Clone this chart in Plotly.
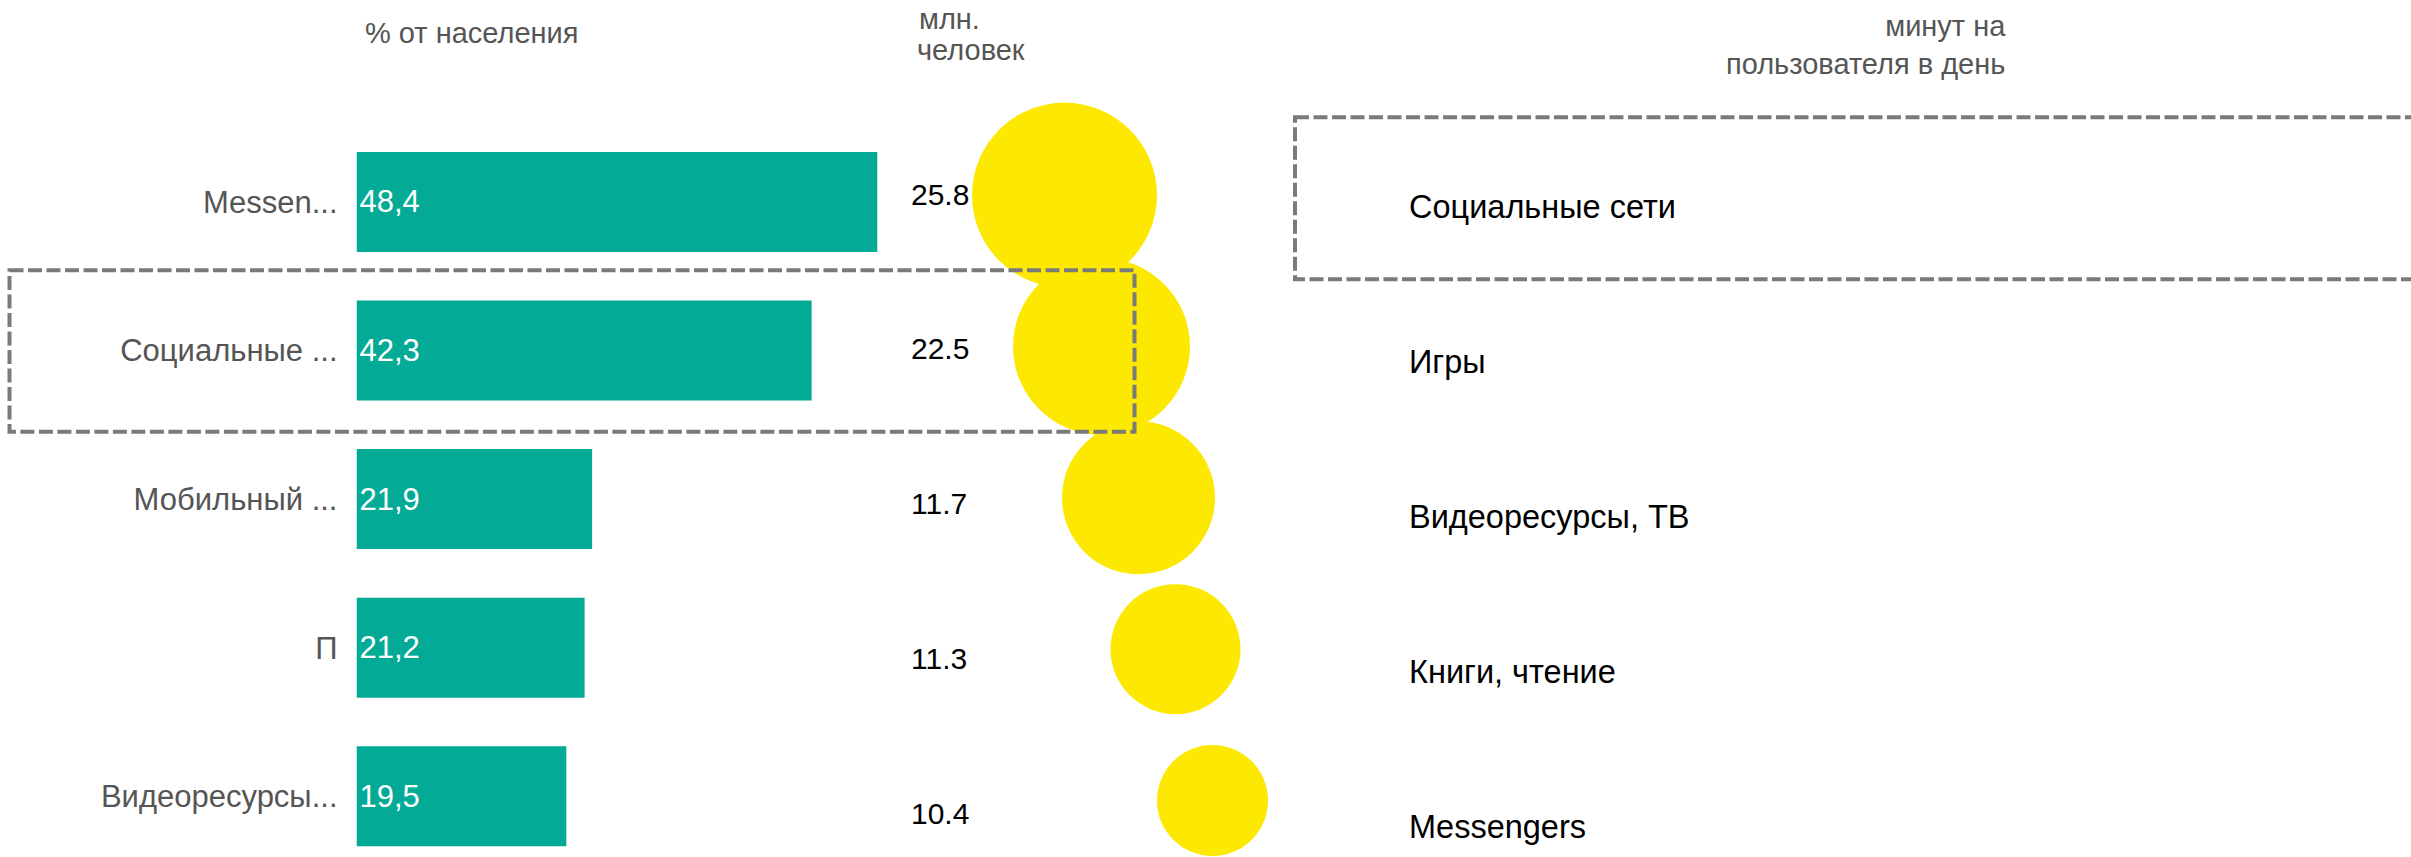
import plotly.graph_objects as go

# ---------------- data ----------------
categories = ["Messen...", "Социальные ...", "Мобильный ...", "П", "Видеоресурсы..."]
share_pct = [48.4, 42.3, 21.9, 21.2, 19.5]          # % от населения
users_mln = [25.8, 22.5, 11.7, 11.3, 10.4]          # млн. человек
activities = ["Социальные сети", "Игры", "Видеоресурсы, ТВ", "Книги, чтение", "Messengers"]
minutes_per_user = [100, 91.5, 68.4, 49.4, 36.0]
activity_rank = [0, 1, 2, 3, 4]

header_share = "% от населения"
header_users_1 = "млн."
header_users_2 = "человек"
header_minutes = "минут на<br>пользователя в день"

# ---------------- styling ----------------
W, H = 2411, 857
FONT = "Liberation Sans, Arial, sans-serif"
TEAL = "#03AB97"
YELLOW = "#FCE800"
GREY_TXT = "#555555"
DASH_COL = "#7a7a7a"

def px(x):
    return x / W

def py(y):
    return 1 - y / H

fig = go.Figure()

# bars
fig.add_trace(go.Bar(
    x=share_pct, y=categories, orientation="h",
    marker=dict(color=TEAL, line=dict(width=0)),
    text=[f"{v:.1f}".replace(".", ",") for v in share_pct],
    textposition="inside", insidetextanchor="start",
    insidetextfont=dict(family=FONT, size=31, color="white"),
    constraintext="none", cliponaxis=False,
    xaxis="x", yaxis="y", hoverinfo="skip",
))

# bubbles
max_min = max(minutes_per_user)
fig.add_trace(go.Scatter(
    x=activity_rank, y=activities, mode="markers",
    marker=dict(size=minutes_per_user, sizemode="area",
                sizeref=2 * max_min / (185 ** 2), color=YELLOW,
                line=dict(width=0), opacity=1),
    cliponaxis=False, xaxis="x2", yaxis="y2", hoverinfo="skip",
))

# users numbers
fig.add_trace(go.Scatter(
    x=[0] * len(users_mln), y=categories, mode="text",
    text=[f"{v:.1f}" for v in users_mln], textposition="middle right",
    textfont=dict(family=FONT, size=30, color="black"),
    cliponaxis=False, xaxis="x3", yaxis="y3", hoverinfo="skip",
))

# activity names
fig.add_trace(go.Scatter(
    x=[0] * len(activities), y=activities, mode="text",
    text=activities, textposition="middle right",
    textfont=dict(family=FONT, size=32.5, color="black"),
    cliponaxis=False, xaxis="x4", yaxis="y4", hoverinfo="skip",
))

hidden = dict(visible=False, showgrid=False, zeroline=False, fixedrange=True)

bar_step = 148.6
bar_c0 = 201.9
bar_bottom_idx = (H - bar_c0) / bar_step

bub_step = 151.35
bub_c0 = 195.1
num_step = 154.75
num_c0 = 197.2
act_step = 154.84
act_c0 = 210.1
top_px = 90

fig.update_layout(
    width=W, height=H,
    margin=dict(l=0, r=0, t=0, b=0),
    paper_bgcolor="white", plot_bgcolor="rgba(0,0,0,0)",
    showlegend=False,
    bargap=1 - 100 / bar_step,
    font=dict(family=FONT),
    xaxis=dict(domain=[px(356.5), px(900)], range=[0, (900 - 356.5) / 10.76], **hidden),
    yaxis=dict(domain=[0, py(bar_c0 - bar_step / 2)], range=[bar_bottom_idx, -0.5],
               type="category", categoryorder="array", categoryarray=categories,
               showgrid=False, zeroline=False, showline=False, ticks="",
               ticklabelstandoff=18,
               tickfont=dict(family=FONT, size=31, color=GREY_TXT)),
    xaxis2=dict(domain=[px(950), px(1300)], range=[(950 - 1064.5) / 37, (1300 - 1064.5) / 37],
                anchor="y2", **hidden),
    yaxis2=dict(domain=[0, py(top_px)], anchor="x2",
                range=[(H - bub_c0) / bub_step, (top_px - bub_c0) / bub_step],
                type="category", categoryorder="array", categoryarray=activities, **hidden),
    xaxis3=dict(domain=[px(911), 1], range=[0, 1], anchor="y3", **hidden),
    yaxis3=dict(domain=[0, py(top_px)], anchor="x3",
                range=[(H - num_c0) / num_step, (top_px - num_c0) / num_step],
                type="category", categoryorder="array", categoryarray=categories, **hidden),
    xaxis4=dict(domain=[px(1409), 1], range=[0, 1], anchor="y4", **hidden),
    yaxis4=dict(domain=[0, py(top_px)], anchor="x4",
                range=[(H - act_c0) / act_step, (top_px - act_c0) / act_step],
                type="category", categoryorder="array", categoryarray=activities, **hidden),
)

ann_font = dict(family=FONT, size=29, color=GREY_TXT)
fig.add_annotation(text=header_share, x=px(363), y=py(33), xref="paper", yref="paper",
                   xanchor="left", yanchor="middle", showarrow=False, font=ann_font)
fig.add_annotation(text=header_users_1, x=px(917), y=py(19), xref="paper", yref="paper",
                   xanchor="left", yanchor="middle", showarrow=False, font=ann_font)
fig.add_annotation(text=header_users_2, x=px(915), y=py(50), xref="paper", yref="paper",
                   xanchor="left", yanchor="middle", showarrow=False, font=ann_font)
fig.add_annotation(text=header_minutes, x=px(2008), y=py(45), xref="paper", yref="paper",
                   xanchor="right", yanchor="middle", align="right", showarrow=False, font=ann_font)

dash_line = dict(color=DASH_COL, width=4, dash="14px,4.5px")
fig.add_shape(type="rect", xref="paper", yref="paper",
              x0=px(9.5), x1=px(1134.5), y0=py(270.3), y1=py(431.7),
              line=dash_line, fillcolor="rgba(0,0,0,0)", layer="above")
fig.add_shape(type="rect", xref="paper", yref="paper",
              x0=px(1295), x1=px(2440), y0=py(117.3), y1=py(279.3),
              line=dash_line, fillcolor="rgba(0,0,0,0)", layer="above")

fig.write_html("out.html", config={"displayModeBar": False},
               post_script="document.body.style.margin='0';document.body.style.overflow='hidden';")
